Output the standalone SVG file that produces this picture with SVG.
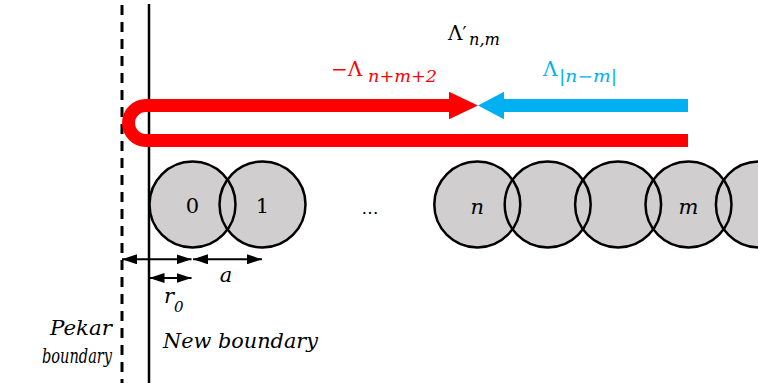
<svg xmlns="http://www.w3.org/2000/svg" width="758" height="383" viewBox="0 0 758 383">
<defs>
<marker id="ah" markerUnits="userSpaceOnUse" markerWidth="15" markerHeight="10" refX="15" refY="5" orient="auto-start-reverse" viewBox="0 0 15 10">
<path d="M0,0 L15,5 L0,10 z" fill="#000"/>
</marker>
<circle id="disc" r="43"/>
</defs>
<rect width="758" height="383" fill="#fff"/>
<g id="boundaries">
<line x1="122" y1="5" x2="122" y2="383" stroke="#000" stroke-width="3" stroke-dasharray="10 7"/>
<line x1="149" y1="4" x2="149" y2="383" stroke="#000" stroke-width="2.5"/>
</g>
<g id="fills" fill="#d0cece" stroke="none">
<use href="#disc" x="192.5" y="204.5"/>
<use href="#disc" x="262.5" y="204.5"/>
<use href="#disc" x="477.3" y="204.5"/>
<use href="#disc" x="547.7" y="204.5"/>
<use href="#disc" x="618.1" y="204.5"/>
<use href="#disc" x="688.5" y="204.5"/>
<use href="#disc" x="758.9" y="204.5"/>
</g>
<g fill="none" stroke="#000" stroke-width="2.5">
<g id="site0"><use href="#disc" x="192.5" y="204.5"/><text fill="#000" stroke="none" font-family="DejaVu Serif" font-size="21" text-anchor="middle" x="192.5" y="213">0</text></g>
<g id="site1"><use href="#disc" x="262.5" y="204.5"/><text fill="#000" stroke="none" font-family="DejaVu Serif" font-size="21" text-anchor="middle" x="262.5" y="213">1</text></g>
<g id="siten"><use href="#disc" x="477.3" y="204.5"/><text fill="#000" stroke="none" font-family="DejaVu Serif" font-size="21" font-style="italic" text-anchor="middle" x="477.3" y="214">n</text></g>
<g id="siten1"><use href="#disc" x="547.7" y="204.5"/></g>
<g id="siten2"><use href="#disc" x="618.1" y="204.5"/></g>
<g id="sitem"><use href="#disc" x="688.5" y="204.5"/><text fill="#000" stroke="none" font-family="DejaVu Serif" font-size="21" font-style="italic" text-anchor="middle" x="688.5" y="214">m</text></g>
<g id="sitem1"><use href="#disc" x="758.9" y="204.5"/></g>
</g>
<g id="ellipsis"><text font-family="DejaVu Serif" font-size="17" x="370" y="214" text-anchor="middle">…</text></g>
<g id="connectors">
<path d="M449,105.5 H146 A17.5,17.5 0 0 0 146,140.5 H688" fill="none" stroke="#ff0000" stroke-width="13"/>
<polygon points="449,91.7 478,105.5 449,119.3" fill="#ff0000"/>
<line x1="503" y1="105.5" x2="688" y2="105.5" stroke="#00b0f0" stroke-width="13"/>
<polygon points="504,91.7 478,105.5 504,119.3" fill="#00b0f0"/>
<g stroke="#000" stroke-width="2" marker-start="url(#ah)" marker-end="url(#ah)">
<line x1="122" y1="259.3" x2="191.5" y2="259.3"/>
<line x1="193" y1="259.3" x2="262" y2="259.3"/>
<line x1="149.5" y1="278" x2="191.5" y2="278"/>
</g>
</g>
<g id="labels">
<text font-family="DejaVu Serif" font-size="20" x="448" y="40">Λ<tspan font-size="18">′</tspan><tspan font-style="italic" font-size="16" x="469" y="45" textLength="31" lengthAdjust="spacingAndGlyphs">n,m</tspan></text>
<text font-family="DejaVu Serif" font-size="20" x="331" y="76" fill="#ff0000">−Λ<tspan font-style="italic" font-size="16" x="368" y="82" textLength="69" lengthAdjust="spacingAndGlyphs">n+m+2</tspan></text>
<text font-family="DejaVu Serif" font-size="20" x="543" y="76" fill="#00b0f0">Λ<tspan font-style="italic" font-size="16" x="559" y="82" textLength="58" lengthAdjust="spacingAndGlyphs">|n−m|</tspan></text>
<text font-family="DejaVu Serif" font-size="21" font-style="italic" x="226" y="282" text-anchor="middle">a</text>
<text font-family="DejaVu Serif" font-size="21" font-style="italic" x="164" y="303">r<tspan font-size="15" y="312">0</tspan></text>
<text font-family="DejaVu Serif" font-size="21" font-style="italic" x="112" y="335" text-anchor="end" textLength="62" lengthAdjust="spacingAndGlyphs">Pekar</text>
<text font-family="DejaVu Serif" font-size="21" font-style="italic" x="112" y="363" text-anchor="end" textLength="70" lengthAdjust="spacingAndGlyphs">boundary</text>
<text font-family="DejaVu Serif" font-size="21" font-style="italic" x="163" y="348" textLength="155" lengthAdjust="spacingAndGlyphs">New boundary</text>
</g>
</svg>
